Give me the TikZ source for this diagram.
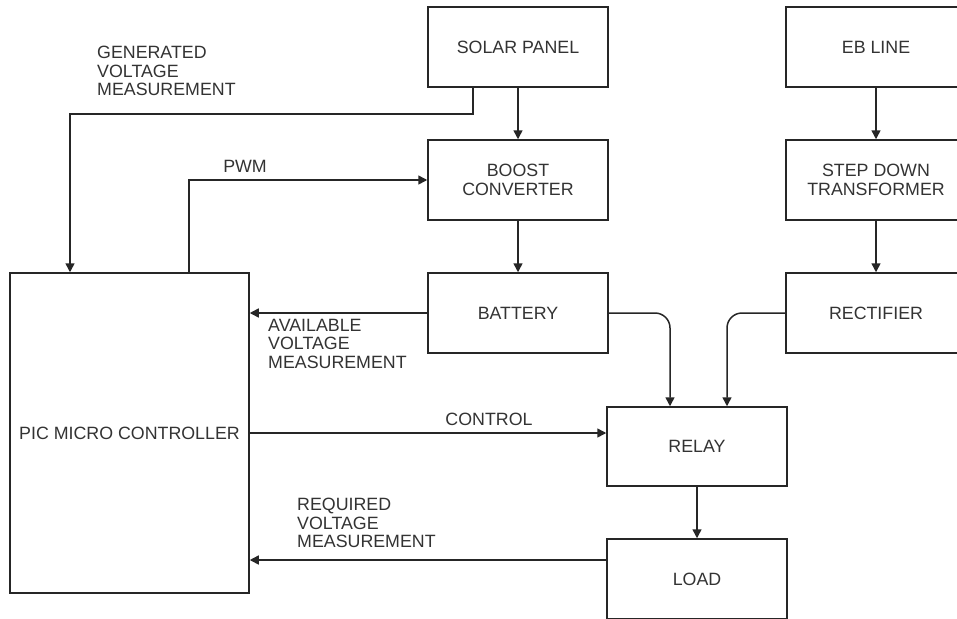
\documentclass[tikz,border=0pt]{standalone}
\usepackage{fontspec}
\setmainfont{Liberation Sans}
\usetikzlibrary{arrows.meta}
\definecolor{ln}{HTML}{262626}
\definecolor{tx}{HTML}{333333}
\tikzset{
  blk/.style={draw=ln, line width=1.5pt, rectangle, minimum width=180pt, minimum height=80pt, inner sep=0pt, align=center, text=tx, font=\fontsize{17.8}{18.5}\selectfont},
  arr/.style={draw=ln, line width=1.5pt, -{Triangle[length=9pt,width=9pt]}},
  lbl/.style={text=tx, inner sep=0pt, align=left, font=\fontsize{17.8}{18.5}\selectfont},
}
\begin{document}
\begin{tikzpicture}[x=1pt, y=-1pt]
\useasboundingbox (0,0) rectangle (957,618);
\clip (0,0) rectangle (957,618);
\fill[white] (0,0) rectangle (957,618);

\node[blk] (solar) at (518,47) {SOLAR PANEL};
\node[blk] (boost) at (518,180) {BOOST\\CONVERTER};
\node[blk] (battery) at (518,313) {BATTERY};
\node[blk] (eb) at (876,47) {EB LINE};
\node[blk] (step) at (876,180) {STEP DOWN\\TRANSFORMER};
\node[blk] (rect) at (876,313) {RECTIFIER};
\node[blk, minimum height=79pt] (relay) at (697,446.5) {RELAY};
\node[blk] (load) at (697,579) {LOAD};
\node[blk, minimum width=239pt, minimum height=320pt] (pic) at (129.5,433) {PIC MICRO CONTROLLER};

\draw[arr] (solar) -- (boost);
\draw[arr] (boost) -- (battery);
\draw[arr] (eb) -- (step);
\draw[arr] (step) -- (rect);
\draw[arr] (relay) -- (load);

\draw[arr] ([xshift=-45pt]solar.south) -- ++(0,26) -| ([xshift=-59.5pt]pic.north);
\draw[arr] ([xshift=59.5pt]pic.north) |- (boost.west);
\draw[arr] (battery.west) -- (battery.west -| pic.east);
\draw[arr, rounded corners=15pt] (battery.east) -| ([xshift=-27pt]relay.north);
\draw[arr, rounded corners=15pt] (rect.west) -| ([xshift=30pt]relay.north);
\draw[arr] (pic.east) -- (pic.east -| relay.west);
\draw[arr] ([yshift=19pt]load.west) -- ([yshift=19pt]load.west -| pic.east);

\node[lbl, anchor=north west] (lgen) at (97,46) {GENERATED\\VOLTAGE\\MEASUREMENT};
\node[lbl] (lpwm) at (245,166) {PWM};
\node[lbl, anchor=north west] (lavail) at (268,319) {AVAILABLE\\VOLTAGE\\MEASUREMENT};
\node[lbl] (lctrl) at (489,419) {CONTROL};
\node[lbl, anchor=north west] (lreq) at (297,498) {REQUIRED\\VOLTAGE\\MEASUREMENT};
\end{tikzpicture}
\end{document}
